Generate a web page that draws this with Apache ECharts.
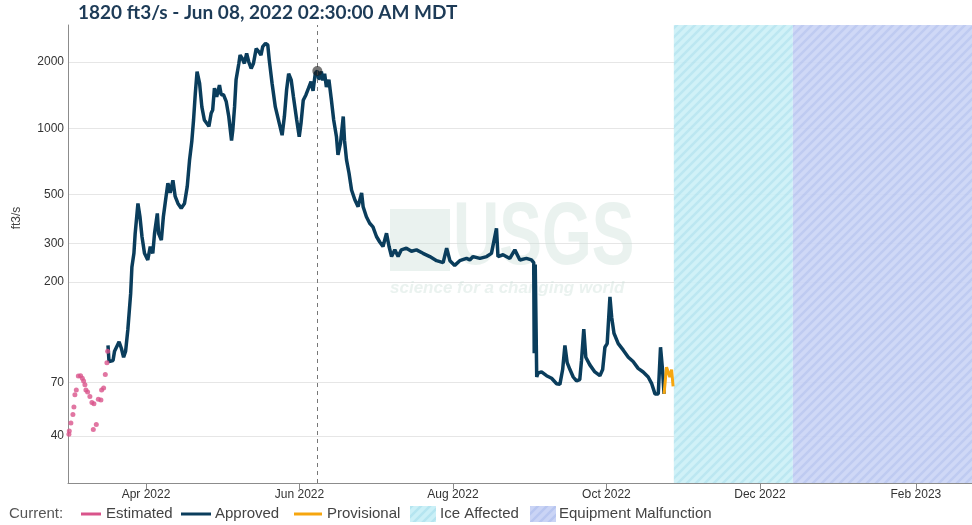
<!DOCTYPE html>
<html>
<head>
<meta charset="utf-8">
<script src="https://cdn.jsdelivr.net/npm/echarts@6/dist/echarts.min.js"></script>
<style>
html, body { margin: 0; padding: 0; background: #fff; }
#chart { width: 972px; height: 525px; }
</style>
</head>
<body>
<div id="chart"></div>
<script>
// x values are days counted from 2022-03-01 00:00
var DAY = 86400000;
var START = Date.UTC(2022, 2, 1);

// Estimated (pink dots)
var estDays = [0.36, 0.52, 1.15, 1.95, 2.35, 2.74, 3.3, 4.1, 5.0, 5.69, 6.2, 6.72, 7.12, 7.79, 8.7, 9.5, 10.06, 10.3, 11.25, 12.05, 13.08, 13.36, 14.16, 14.83, 15.47, 15.75];
var estValues = [40.6, 42, 45.7, 50, 54, 61.5, 64.5, 74.7, 75, 73, 71, 68.3, 64.5, 63.3, 60.3, 56.7, 42.7, 56, 45, 58.6, 58.2, 64.5, 66, 76, 86, 97];

// Approved
var apprDays = [15.9, 16.3, 17.9, 18.5, 20.3, 21.2, 22.1, 22.9, 23.8, 24.9, 25.4, 26.2, 26.7, 27.8, 28.6, 29.4, 30.4, 31.7, 32.7, 33.7,
  34.4, 35.5, 36.0, 37.1, 37.9, 38.8, 39.7, 40.6, 41.7, 42.6, 43.7, 45.0, 46.3, 47.4, 48.3, 49.2, 49.9, 50.6, 51.3, 52.3,
  53.2, 54.2, 54.9, 56.0, 56.9, 57.5, 58.2, 59.1, 60.2, 60.9, 61.8, 62.9, 63.9, 65.0, 65.5, 66.2, 66.8, 67.9, 68.4, 69.2,
  70.1, 71.0, 71.8, 72.8, 73.7, 74.8, 75.8, 76.7, 77.4, 78.5, 79.4, 80.0, 81.1, 82.4, 84.0, 85.1, 86.0, 86.9, 87.7, 88.7,
  89.6, 90.9, 91.9, 92.6, 93.5, 94.6, 95.6, 96.6, 97.4, 98.3, 99.1, 99.7, 100.7, 101.3, 102.0, 102.7, 103.7, 104.7, 105.6, 106.7,
  107.3, 108.3, 109.4, 109.9, 110.7, 111.7, 112.7, 114.0, 115.3, 116.7, 117.3, 118.6, 119.9, 121.2, 122.6, 123.9, 125.2, 126.6, 127.6, 128.6,
  129.9, 131.2, 132.5, 134.5, 136.5, 138.5, 141.1, 143.8, 146.5, 149.1, 150.5, 151.8, 153.7, 155.7, 158.4, 159.7, 161.0, 163.7, 166.4, 168.3,
  170.3, 170.9, 172.9, 175.6, 177.6, 179.6, 182.2, 184.2, 185.1, 185.3, 185.7, 186.3, 186.8, 188.2, 190.2, 192.2, 194.2, 195.5, 196.6, 197.5,
  198.4, 199.5, 200.8, 202.1, 203.4, 204.1, 205.0, 205.8, 207.4, 209.4, 211.4, 212.5, 213.4, 214.3, 215.4, 216.1, 217.0, 218.7, 220.7, 222.7,
  224.6, 226.6, 228.6, 230.6, 232.0, 233.3, 234.6, 235.5, 236.3, 236.9];
var apprValues = [103, 87, 88, 97, 107, 100, 91, 97, 122, 177, 234, 270, 333, 455, 396, 322, 270, 252, 290, 270,
  333, 410, 333, 310, 396, 473, 563, 508, 580, 490, 455, 433, 455, 544, 715, 870, 1090, 1440, 1810, 1600,
  1250, 1090, 1070, 1020, 1170, 1210, 1520, 1390, 1570, 1420, 1420, 1320, 1130, 880, 980, 1250, 1660, 1970, 2150, 2080,
  1970, 2190, 2010, 1870, 1970, 2300, 2230, 2150, 2350, 2430, 2390, 2040, 1600, 1250, 1050, 930, 1130, 1500, 1770, 1660,
  1390, 1090, 915, 1050, 1340, 1420, 1520, 1630, 1480, 1780, 1820, 1660, 1810, 1650, 1770, 1540, 1660, 1340, 1090, 915,
  756, 855, 1130, 880, 718, 624, 524, 473, 440, 508, 440, 396, 370, 356, 322, 304, 290, 333, 290, 261,
  280, 261, 280, 285, 276, 280, 270, 261, 250, 245, 285, 250, 238, 250, 256, 252, 261, 256, 261, 270,
  351, 261, 266, 256, 280, 252, 256, 252, 245, 95, 240, 74, 77, 78, 75, 73, 69, 68.5, 80, 103,
  86, 80, 74, 71, 72, 88, 122, 91, 84, 78, 75, 80, 101, 105, 171, 138, 117, 105, 98, 91,
  87, 81, 78, 74, 69, 62, 62, 101, 80, 62];

// Provisional
var provDays = [236.9, 237.9, 238.6, 239.2, 239.9, 240.5];
var provValues = [62, 82, 82, 74, 80, 67];

// qualifier periods
var iceStartDay = 240.8, iceEndDay = 288.1, axisEndDay = 359.3;

// hovered point (Jun 08 2022 02:30)
var hoverDay = 99.104, hoverValue = 1820;

var yTicks = [40, 70, 200, 300, 500, 1000, 2000];
var xTickDays = [31, 92, 153, 214, 275, 337];
var monthNames = ['Jan', 'Feb', 'Mar', 'Apr', 'May', 'Jun', 'Jul', 'Aug', 'Sep', 'Oct', 'Nov', 'Dec'];

function pairs(days, vals) {
  return days.map(function (d, i) { return [d, vals[i]]; });
}

function stripes(bg, line) {
  var s = 9, c = document.createElement('canvas');
  c.width = c.height = s;
  var ctx = c.getContext('2d');
  ctx.fillStyle = bg;
  ctx.fillRect(0, 0, s, s);
  ctx.strokeStyle = line;
  ctx.lineWidth = 2.5;
  ctx.beginPath();
  ctx.moveTo(0, s); ctx.lineTo(s, 0);
  ctx.moveTo(-s / 2, s / 2); ctx.lineTo(s / 2, -s / 2);
  ctx.moveTo(s / 2, s * 1.5); ctx.lineTo(s * 1.5, s / 2);
  ctx.stroke();
  return c;
}

var icePattern = { image: stripes('#cbf0f7', '#b5e5f0'), repeat: 'repeat' };
var eqPattern = { image: stripes('#cad4f5', '#b8c6f0'), repeat: 'repeat' };

var SANS = 'Liberation Sans, Arial, sans-serif';
var MARK = 'rgba(205,225,218,0.42)';

var chart = echarts.init(document.getElementById('chart'));

var legendY = 514;
var option = {
  animation: false,
  grid: { left: 68, right: 0, top: 25, bottom: 42 },
  xAxis: {
    type: 'value',
    min: 0,
    max: axisEndDay,
    axisLine: { lineStyle: { color: '#8c8c8c' } },
    axisTick: { customValues: xTickDays, length: 6, lineStyle: { color: '#8c8c8c' } },
    axisLabel: {
      customValues: xTickDays,
      color: '#333',
      fontFamily: SANS,
      fontSize: 12,
      margin: 6,
      formatter: function (v) {
        var d = new Date(START + v * DAY);
        return monthNames[d.getUTCMonth()] + ' ' + d.getUTCFullYear();
      }
    },
    splitLine: { show: false }
  },
  yAxis: {
    type: 'log',
    min: 24.4,
    max: 2946,
    axisLine: { show: true, lineStyle: { color: '#8c8c8c' } },
    axisTick: { show: false, customValues: yTicks },
    axisLabel: {
      customValues: yTicks,
      color: '#333',
      fontSize: 12,
      fontFamily: SANS,
      margin: 4,
      formatter: function (v) { return String(Math.round(v)); }
    },
    splitLine: { show: true, lineStyle: { color: '#e6e6e6' } }
  },
  graphic: [
    { type: 'text', x: 78, y: 3, style: { text: '1820 ft3/s - Jun 08, 2022 02:30:00 AM MDT', fontFamily: 'Lato, sans-serif', fontWeight: 'bold', fontSize: 19, fill: '#1d3b57' } },
    { type: 'text', x: 17, y: 218, rotation: Math.PI / 2, style: { text: 'ft3/s', fontFamily: SANS, fontSize: 12, fill: '#444', align: 'center', verticalAlign: 'middle' } },
    // USGS watermark
    { type: 'rect', z: 1, shape: { x: 390, y: 209, width: 60, height: 62 }, style: { fill: MARK } },
    { type: 'text', z: 1, x: 453, y: 240, scaleY: 1.38, style: { text: 'USGS', fontFamily: SANS, fontWeight: 'bold', fontSize: 64, fill: MARK, verticalAlign: 'middle' } },
    { type: 'text', z: 1, x: 390, y: 288, style: { text: 'science for a changing world', fontFamily: SANS, fontStyle: 'italic', fontWeight: 'bold', fontSize: 17, fill: MARK, verticalAlign: 'middle' } },
    // legend
    { type: 'text', x: 9, y: legendY, style: { text: 'Current:', fontFamily: SANS, fontSize: 15, fill: '#555', verticalAlign: 'middle' } },
    { type: 'line', shape: { x1: 81, y1: legendY, x2: 101, y2: legendY }, style: { stroke: '#d9548b', lineWidth: 3 } },
    { type: 'text', x: 106, y: legendY, style: { text: 'Estimated', fontFamily: SANS, fontSize: 15, fill: '#444', verticalAlign: 'middle' } },
    { type: 'line', shape: { x1: 181, y1: legendY, x2: 211, y2: legendY }, style: { stroke: '#0a3d5c', lineWidth: 3 } },
    { type: 'text', x: 215, y: legendY, style: { text: 'Approved', fontFamily: SANS, fontSize: 15, fill: '#444', verticalAlign: 'middle' } },
    { type: 'line', shape: { x1: 294, y1: legendY, x2: 322, y2: legendY }, style: { stroke: '#f6a60f', lineWidth: 3 } },
    { type: 'text', x: 327, y: legendY, style: { text: 'Provisional', fontFamily: SANS, fontSize: 15, fill: '#444', verticalAlign: 'middle' } },
    { type: 'rect', shape: { x: 410, y: legendY - 8, width: 26, height: 16 }, style: { fill: icePattern } },
    { type: 'text', x: 440, y: legendY, style: { text: 'Ice Affected', fontFamily: SANS, fontSize: 15, fill: '#444', verticalAlign: 'middle' } },
    { type: 'rect', shape: { x: 530, y: legendY - 8, width: 26, height: 16 }, style: { fill: eqPattern } },
    { type: 'text', x: 559, y: legendY, style: { text: 'Equipment Malfunction', fontFamily: SANS, fontSize: 15, fill: '#444', verticalAlign: 'middle' } }
  ],
  series: [
    {
      name: 'Qualifiers',
      type: 'line',
      data: [],
      silent: true,
      markArea: {
        silent: true,
        data: [
          [{ xAxis: iceStartDay, itemStyle: { color: icePattern, opacity: 0.9 } }, { xAxis: iceEndDay }],
          [{ xAxis: iceEndDay, itemStyle: { color: eqPattern, opacity: 0.9 } }, { xAxis: axisEndDay }]
        ]
      }
    },
    {
      name: 'Estimated',
      type: 'scatter',
      data: pairs(estDays, estValues),
      symbolSize: 5,
      itemStyle: { color: '#d9548b' },
      silent: true,
      z: 3
    },
    {
      name: 'Approved',
      type: 'line',
      data: pairs(apprDays, apprValues),
      showSymbol: false,
      lineStyle: { color: '#0a3d5c', width: 3.5 },
      itemStyle: { color: '#0a3d5c' },
      silent: true,
      z: 3,
      markLine: {
        silent: true,
        symbol: 'none',
        label: { show: false },
        lineStyle: { color: '#777', type: [4, 4], width: 1 },
        data: [{ xAxis: hoverDay }]
      }
    },
    {
      name: 'Provisional',
      type: 'line',
      data: pairs(provDays, provValues),
      showSymbol: false,
      lineStyle: { color: '#f6a60f', width: 3 },
      itemStyle: { color: '#f6a60f' },
      silent: true,
      z: 3
    },
    {
      name: 'Hover',
      type: 'scatter',
      data: [[hoverDay, hoverValue]],
      symbolSize: 10,
      itemStyle: { color: 'rgba(25,25,25,0.75)' },
      silent: true,
      z: 5
    }
  ]
};

chart.setOption(option);
</script>
</body>
</html>
